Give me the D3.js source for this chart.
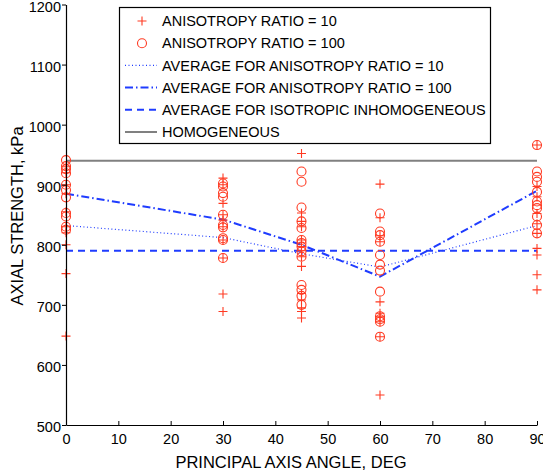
<!DOCTYPE html>
<html>
<head>
<meta charset="utf-8">
<script src="https://cdn.jsdelivr.net/npm/d3@7"></script>
<style>
  body { margin: 0; background: #fff; }
  text { font-family: "Liberation Sans", Arial, sans-serif; fill: #000; }
</style>
</head>
<body>
<svg width="543" height="472"></svg>
<script>
// Data
const angles = [0, 30, 45, 60, 90];

// individual results, anisotropy ratio = 10 (plus markers)
const ratio10 = [
  [930, 920, 900, 885, 855, 830, 820, 800, 752, 648],
  [911, 900, 869, 850, 841, 830, 808, 778, 718, 689],
  [952, 853, 839, 830, 808, 797, 790, 780, 764, 719, 708, 695, 689, 678],
  [901, 845, 815, 805, 705, 686, 680, 672, 647, 550],
  [966, 897, 880, 852, 835, 819, 794, 783, 750, 725]
];

// individual results, anisotropy ratio = 100 (circle markers)
const ratio100 = [
  [941, 931, 926, 919, 900, 891, 879, 853, 847, 830, 825],
  [902, 897, 886, 880, 850, 833, 829, 811, 808, 778],
  [922, 905, 862, 839, 828, 808, 803, 797, 789, 780, 733, 725, 715, 700],
  [852, 822, 816, 805, 783, 767, 757, 722, 681, 676, 672, 647],
  [966, 922, 913, 905, 888, 872, 866, 861, 847, 833, 819]
];

const avgRatio10 = [832, 812, 785, 763, 832];
const avgRatio100 = [885, 842, 800, 747, 890];
const avgIsotropic = 790;
const homogeneous = 940;

const xTicks = [0, 10, 20, 30, 40, 50, 60, 70, 80, 90];
const yTicks = [500, 600, 700, 800, 900, 1000, 1100, 1200];

const legendLabels = [
  "ANISOTROPY RATIO = 10",
  "ANISOTROPY RATIO = 100",
  "AVERAGE FOR ANISOTROPY RATIO = 10",
  "AVERAGE FOR ANISOTROPY RATIO = 100",
  "AVERAGE FOR ISOTROPIC INHOMOGENEOUS",
  "HOMOGENEOUS"
];

const red = "#ff3a22";
const blue = "#1f3cff";
const gray = "#808080";

const svg = d3.select("svg");

const x = d3.scaleLinear().domain([0, 90]).range([66, 537]);
const y = d3.scaleLinear().domain([500, 1200]).range([425, 4.5]);

// reference lines
const line = d3.line().x((d, i) => x(angles[i])).y(d => y(d));

svg.append("line")
  .attr("x1", x(0)).attr("x2", x(90))
  .attr("y1", y(homogeneous)).attr("y2", y(homogeneous))
  .attr("stroke", gray).attr("stroke-width", 2);

svg.append("line")
  .attr("x1", x(0)).attr("x2", x(90))
  .attr("y1", y(avgIsotropic)).attr("y2", y(avgIsotropic))
  .attr("stroke", blue).attr("stroke-width", 2)
  .attr("stroke-dasharray", "7,5");

svg.append("path").datum(avgRatio10)
  .attr("d", line).attr("fill", "none")
  .attr("stroke", blue).attr("stroke-width", 1.2)
  .attr("stroke-dasharray", "1,2.5");

svg.append("path").datum(avgRatio100)
  .attr("d", line).attr("fill", "none")
  .attr("stroke", blue).attr("stroke-width", 2)
  .attr("stroke-dasharray", "8,3,1.5,3");

// scatter points
const pts10 = [], pts100 = [];
angles.forEach((a, i) => {
  ratio10[i].forEach(v => pts10.push({a, v}));
  ratio100[i].forEach(v => pts100.push({a, v}));
});

svg.append("g").selectAll("circle")
  .data(pts100).enter().append("circle")
    .attr("cx", d => x(d.a)).attr("cy", d => y(d.v))
    .attr("r", 4.5)
    .attr("fill", "none").attr("stroke", red).attr("stroke-width", 1.1);

svg.append("g").selectAll("path")
  .data(pts10).enter().append("path")
    .attr("transform", d => `translate(${x(d.a)},${y(d.v)})`)
    .attr("d", "M-4.5,0H4.5M0,-4.5V4.5")
    .attr("fill", "none").attr("stroke", red).attr("stroke-width", 1.1);

// axes
const xAxis = svg.append("g")
  .attr("transform", `translate(0,${y(500)})`)
  .call(d3.axisBottom(x).tickValues(xTicks).tickSizeInner(-4).tickSizeOuter(0).tickPadding(9));
const yAxis = svg.append("g")
  .attr("transform", `translate(${x(0)},0)`)
  .call(d3.axisLeft(y).tickValues(yTicks).tickFormat(d3.format("d"))
    .tickSize(4).tickSizeOuter(0).tickPadding(1));

[xAxis, yAxis].forEach(g => {
  g.select(".domain").attr("stroke", "#000").attr("stroke-width", 1.2);
  g.selectAll(".tick line").attr("stroke", "#000");
  g.selectAll("text").style("font-size", "14.5px").attr("fill", "#000");
});
yAxis.selectAll("text").attr("dy", "0.45em");

// axis titles
svg.append("text")
  .attr("x", 291).attr("y", 468)
  .attr("text-anchor", "middle")
  .style("font-size", "16.5px")
  .text("PRINCIPAL AXIS ANGLE, DEG");

svg.append("text")
  .attr("transform", "translate(23,216) rotate(-90)")
  .attr("text-anchor", "middle")
  .style("font-size", "16.5px")
  .text("AXIAL STRENGTH, kPa");

// legend
const leg = svg.append("g");
leg.append("rect")
  .attr("x", 119.5).attr("y", 7.5).attr("width", 371).attr("height", 136)
  .attr("fill", "#fff").attr("stroke", "#000").attr("stroke-width", 1.2);

const rowY = i => 21 + i * 22.2;
legendLabels.forEach((t, i) => {
  leg.append("text")
    .attr("x", 162).attr("y", rowY(i)).attr("dy", "0.36em")
    .style("font-size", "14.5px")
    .text(t);
});
leg.append("path")
  .attr("transform", `translate(142,${rowY(0)})`)
  .attr("d", "M-4.5,0H4.5M0,-4.5V4.5")
  .attr("fill", "none").attr("stroke", red).attr("stroke-width", 1.1);
leg.append("circle")
  .attr("cx", 142).attr("cy", rowY(1)).attr("r", 4.5)
  .attr("fill", "none").attr("stroke", red).attr("stroke-width", 1.1);
const legLines = [
  {stroke: blue, w: 1.2, dash: "1,2.5"},
  {stroke: blue, w: 2, dash: "8,3,1.5,3"},
  {stroke: blue, w: 2, dash: "7,5"},
  {stroke: gray, w: 2, dash: null}
];
legLines.forEach((s, k) => {
  leg.append("line")
    .attr("x1", 125).attr("x2", 157)
    .attr("y1", rowY(k + 2)).attr("y2", rowY(k + 2))
    .attr("stroke", s.stroke).attr("stroke-width", s.w)
    .attr("stroke-dasharray", s.dash);
});
</script>
</body>
</html>
